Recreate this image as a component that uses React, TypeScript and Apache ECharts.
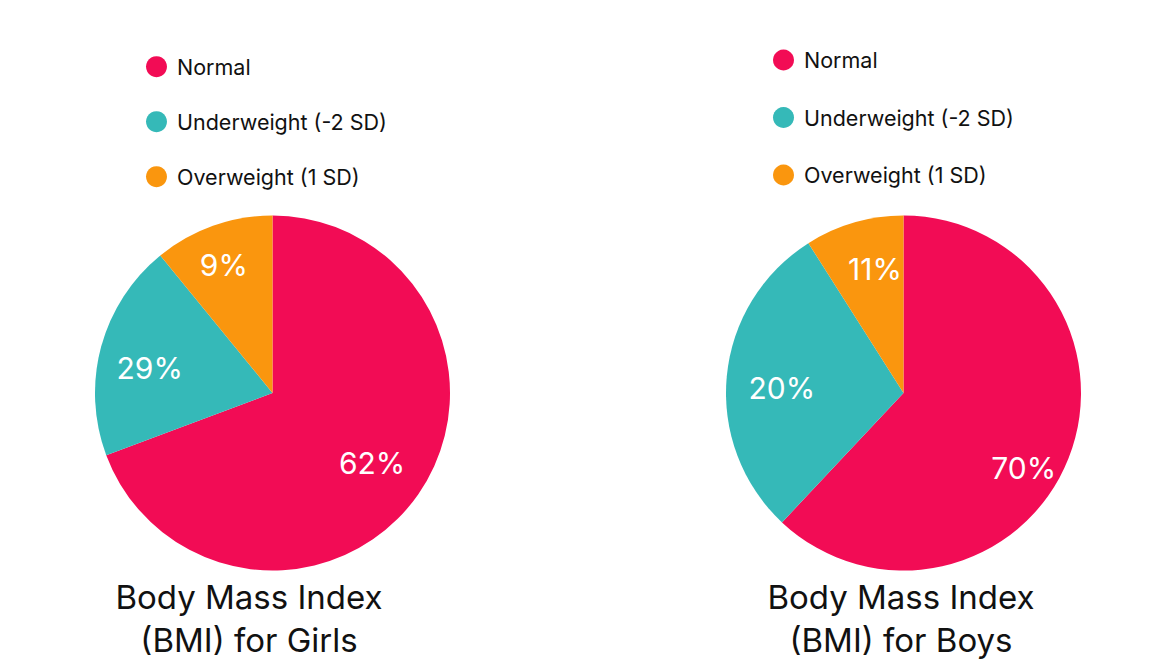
import React, { useEffect, useRef } from "react";
import * as echarts from "echarts";

// Legend categories (shared by both pies)
const categories = ["Normal", "Underweight (-2 SD)", "Overweight (1 SD)"];
const sliceColors = ["#F20C55", "#35B9B8", "#FA960E"];

// In the reference, the slice sizes and the printed labels differ:
// the girls pie is drawn with 70/20/11 but labelled 62/29/9, the boys pie the reverse.
const girlsSliceValues = [70, 20, 11];
const girlsLabelPercents = [62, 29, 9];
const boysSliceValues = [62, 29, 9];
const boysLabelPercents = [70, 20, 11];

const girlsTitle = ["Body Mass Index", "(BMI) for Girls"];
const boysTitle = ["Body Mass Index", "(BMI) for Boys"];

const FONT = "Inter, 'Noto Sans', sans-serif";
const R = 177.5;

// small label nudges (style only): [dx, dy] in px
const girlsLabelNudge = [[-5, -3], [0, 8], [-6, -8]];
const boysLabelNudge = [[2, 28], [5, 7], [7, -2]];

function pieSeries(center: number[], values: number[]) {
  return {
    type: "pie",
    center,
    radius: [0, R],
    startAngle: 90,
    clockwise: true,
    silent: true,
    label: { show: false },
    labelLine: { show: false },
    emphasis: { disabled: true },
    itemStyle: { borderWidth: 0 },
    data: values.map((v, i) => ({
      name: categories[i],
      value: v,
      itemStyle: { color: sliceColors[i] },
    })),
  };
}

function labelSeries(center: number[], values: number[], labels: number[], nudge: number[][]) {
  return {
    type: "pie",
    center,
    radius: [R * 0.4, R],
    startAngle: 90,
    clockwise: true,
    silent: true,
    avoidLabelOverlap: false,
    labelLine: { show: false },
    emphasis: { disabled: true },
    itemStyle: { color: "rgba(0,0,0,0)", borderWidth: 0 },
    label: {
      show: true,
      position: "inside",
      color: "#ffffff",
      fontFamily: FONT,
      fontSize: 30,
      formatter: (p: any) => labels[p.dataIndex] + "%",
    },
    labelLayout: (p: any) => ({ dx: nudge[p.dataIndex][0], dy: nudge[p.dataIndex][1] }),
    data: values.map((v, i) => ({ name: categories[i], value: v })),
  };
}

export default function App() {
  const ref = useRef<HTMLDivElement>(null);
  useEffect(() => {
    if (!ref.current) return;
    const chart = echarts.init(ref.current, undefined, { renderer: "svg" });
    const leftCenter = [272.5, 393];
    const rightCenter = [903.5, 393];
    const legendBase = {
      orient: "vertical",
      icon: "circle",
      itemWidth: 31,
      itemHeight: 21,
      selectedMode: false,
      textStyle: { fontFamily: FONT, fontSize: 21.5, color: "#111111" },
      data: categories,
    };
    chart.setOption({
      animation: false,
      backgroundColor: "#ffffff",
      legend: [
        { ...legendBase, left: 141, top: 50.7, itemGap: 33 },
        { ...legendBase, left: 768, top: 44, itemGap: 35.5 },
      ],
      series: [
        pieSeries(leftCenter, girlsSliceValues),
        pieSeries(rightCenter, boysSliceValues),
        labelSeries(leftCenter, girlsSliceValues, girlsLabelPercents, girlsLabelNudge),
        labelSeries(rightCenter, boysSliceValues, boysLabelPercents, boysLabelNudge),
      ],
      graphic: [
        {
          type: "text",
          x: 249,
          y: 575.5,
          style: {
            text: girlsTitle.join("\n"),
            fontFamily: FONT,
            fontSize: 33,
            lineHeight: 43,
            fill: "#111111",
            align: "center",
            verticalAlign: "top",
          },
        },
        {
          type: "text",
          x: 901,
          y: 575.5,
          style: {
            text: boysTitle.join("\n"),
            fontFamily: FONT,
            fontSize: 33,
            lineHeight: 43,
            fill: "#111111",
            align: "center",
            verticalAlign: "top",
          },
        },
      ],
    });
    return () => chart.dispose();
  }, []);
  return (
    <div
      ref={ref}
      style={{ position: "absolute", left: 0, top: 0, width: 1158, height: 672 }}
    />
  );
}
